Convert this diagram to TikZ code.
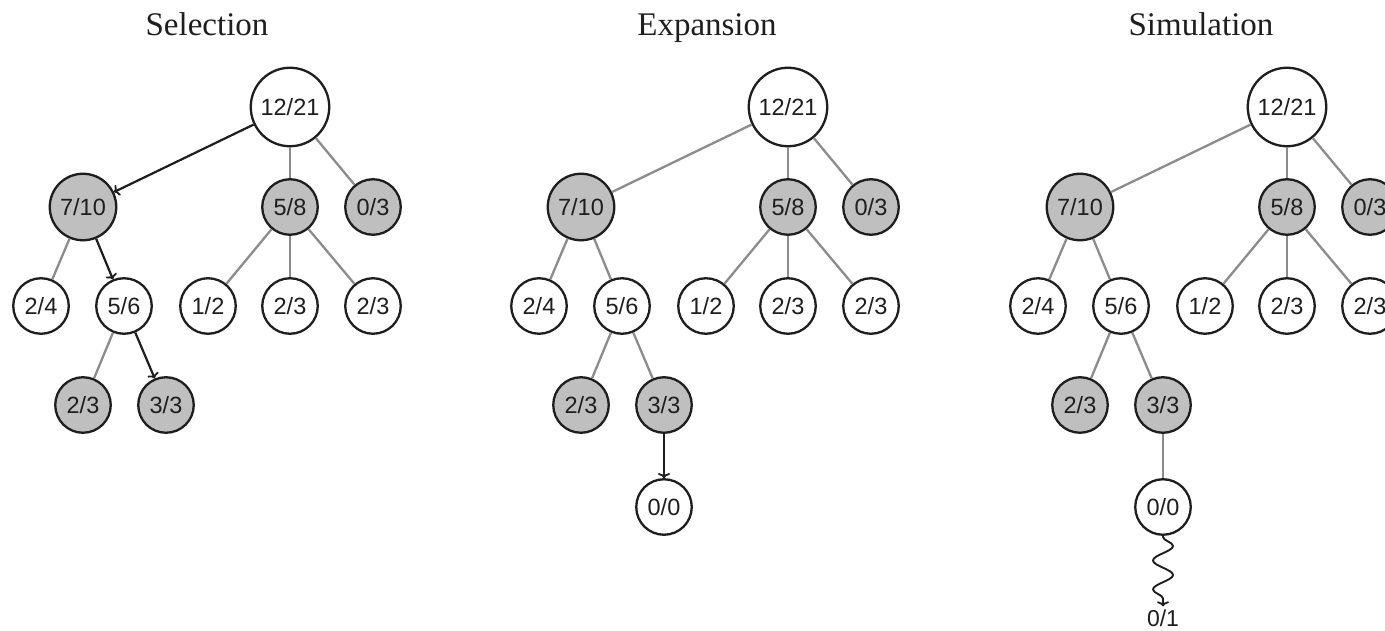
\documentclass[tikz,border=0pt]{standalone}
\usepackage{fontspec}
\setmainfont{Liberation Serif}
\newfontfamily\labfont{Liberation Sans}
\usetikzlibrary{arrows.meta,decorations.pathmorphing}
\definecolor{visfill}{HTML}{BFBFBF}
\definecolor{edgegray}{HTML}{8C8C8C}
\definecolor{ink}{HTML}{1E1E1E}
\newcommand\mctsnodes[2]{%
 \begin{scope}[xshift=#2]
  \node[bignd] (#1r) at (290,107) {12/21};
  \node[midnd,vis] (#1a) at (83,207) {7/10};
  \node[nd,vis] (#1b) at (290,207) {5/8};
  \node[nd,vis] (#1c) at (373,207) {0/3};
  \node[nd] (#1d) at (41,306) {2/4};
  \node[nd] (#1e) at (124,306) {5/6};
  \node[nd] (#1f) at (208,306) {1/2};
  \node[nd] (#1g) at (290,306) {2/3};
  \node[nd] (#1h) at (373,306) {2/3};
  \node[nd,vis] (#1i) at (83,405) {2/3};
  \node[nd,vis] (#1j) at (166,405) {3/3};
 \end{scope}}
\begin{document}
\begin{tikzpicture}[x=1pt,y=-1pt,
  nd/.style={circle,draw=ink,fill=white,line width=2.3pt,inner sep=0pt,minimum size=55.5pt,
    font=\labfont\fontsize{23.5}{25}\selectfont,text=ink},
  bignd/.style={nd,minimum size=78.5pt},
  midnd/.style={nd,minimum size=66.5pt},
  vis/.style={fill=visfill},
  ge/.style={draw=edgegray,line width=2.3pt},
  arr/.style={draw=ink,line width=2.2pt,-{To[length=5pt,width=12pt,line width=1.8pt]}},
  ttl/.style={anchor=base,font=\fontsize{33}{35}\selectfont,text=ink},
  plain/.style={inner sep=0pt,font=\labfont\fontsize{23}{25}\selectfont,text=ink}]
\clip (0,0) rectangle (1385,631);
\fill[white] (0,0) rectangle (1385,631);
% titles
\node[ttl] (t1) at (207,36) {Selection};
\node[ttl] (t2) at (707,36) {Expansion};
\node[ttl] (t3) at (1201,36) {Simulation};
% panels
\mctsnodes{S}{0pt}
\mctsnodes{E}{498pt}
\mctsnodes{M}{997pt}
\node[nd] (Ek) at (664,507) {0/0};
\node[nd] (Mk) at (1163,507) {0/0};
\node[plain] (Ml) at (1163,618) {0/1};
% Selection edges
\draw[arr] (Sr) -- (Sa);
\draw[ge] (Sr) -- (Sb);
\draw[ge] (Sr) -- (Sc);
\draw[ge] (Sa) -- (Sd);
\draw[arr] (Sa) -- (Se);
\draw[ge] (Sb) -- (Sf);
\draw[ge] (Sb) -- (Sg);
\draw[ge] (Sb) -- (Sh);
\draw[ge] (Se) -- (Si);
\draw[arr] (Se) -- (Sj);
% Expansion edges
\draw[ge] (Er) -- (Ea);
\draw[ge] (Er) -- (Eb);
\draw[ge] (Er) -- (Ec);
\draw[ge] (Ea) -- (Ed);
\draw[ge] (Ea) -- (Ee);
\draw[ge] (Eb) -- (Ef);
\draw[ge] (Eb) -- (Eg);
\draw[ge] (Eb) -- (Eh);
\draw[ge] (Ee) -- (Ei);
\draw[ge] (Ee) -- (Ej);
\draw[arr] (Ej) -- (Ek);
% Simulation edges
\draw[ge] (Mr) -- (Ma);
\draw[ge] (Mr) -- (Mb);
\draw[ge] (Mr) -- (Mc);
\draw[ge] (Ma) -- (Md);
\draw[ge] (Ma) -- (Me);
\draw[ge] (Mb) -- (Mf);
\draw[ge] (Mb) -- (Mg);
\draw[ge] (Mb) -- (Mh);
\draw[ge] (Me) -- (Mi);
\draw[ge] (Me) -- (Mj);
\draw[ge] (Mj) -- (Mk);
\draw[arr,line width=1.9pt,decorate,decoration={snake,segment length=29pt,amplitude=10pt,pre length=1pt,post length=7pt}] (Mk.south) -- ([yshift=3pt]Ml.north);
\end{tikzpicture}
\end{document}
